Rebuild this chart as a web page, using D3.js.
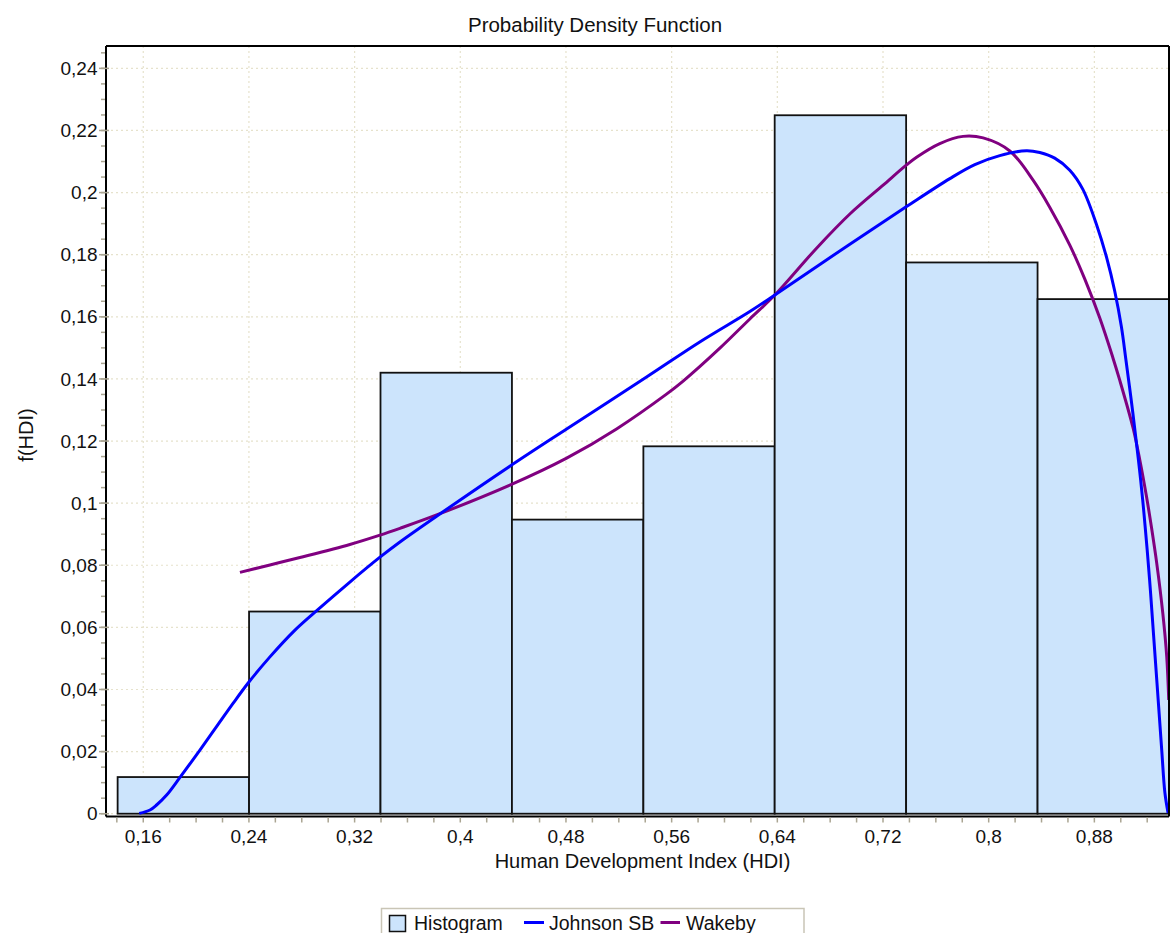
<!DOCTYPE html>
<html>
<head>
<meta charset="utf-8">
<script src="https://cdn.jsdelivr.net/npm/d3@7"></script>
<style>
  html, body { margin: 0; padding: 0; background: #fff; }
  svg { display: block; font-family: "Liberation Sans", Arial, sans-serif; }
</style>
</head>
<body>
<div id="chart"></div>
<script>
// ---- data ----
const binEdges = [0.1406, 0.2401, 0.3396, 0.4391, 0.5386, 0.6380, 0.7375, 0.8370, 0.9365];
const binHeights = [0.0118, 0.0651, 0.1420, 0.0947, 0.1183, 0.2249, 0.1775, 0.1657];

const johnsonX = [0.1570, 0.1651, 0.1701, 0.1777, 0.1878, 0.2029, 0.2156, 0.2281, 0.2400, 0.2559,
  0.2741, 0.2900, 0.3164, 0.3392, 0.3543, 0.3821, 0.4375, 0.4805, 0.5410, 0.5813, 0.6192, 0.6381,
  0.6949, 0.7378, 0.7706, 0.7895, 0.8084, 0.8286, 0.8387, 0.8500, 0.8614, 0.8712, 0.8818, 0.8894,
  0.8954, 0.9005, 0.9039, 0.9079, 0.9116, 0.9142, 0.9166, 0.9182, 0.9200, 0.9224, 0.9247, 0.9274,
  0.9310, 0.9334, 0.9358];
const johnsonY = [0.0001, 0.0012, 0.0028, 0.0060, 0.0117, 0.0205, 0.0281, 0.0356, 0.0424, 0.0505,
  0.0588, 0.0649, 0.0746, 0.0826, 0.0875, 0.0958, 0.1119, 0.1239, 0.1406, 0.1519, 0.1617, 0.1670,
  0.1834, 0.1955, 0.2045, 0.2090, 0.2119, 0.2135, 0.2129, 0.2111, 0.2072, 0.2011, 0.1895, 0.1789,
  0.1683, 0.1567, 0.1461, 0.1332, 0.1203, 0.1107, 0.1010, 0.0936, 0.0849, 0.0720, 0.0582, 0.0421,
  0.0205, 0.0067, 0.0002];

const wakebyX = [0.2332, 0.2559, 0.2786, 0.3164, 0.3392, 0.3543, 0.3821, 0.4375, 0.4805, 0.5183,
  0.5561, 0.5687, 0.5965, 0.6192, 0.6381, 0.6697, 0.6949, 0.7201, 0.7378, 0.7454, 0.7630, 0.7806,
  0.7958, 0.8160, 0.8336, 0.8462, 0.8614, 0.8727, 0.8841, 0.8939, 0.8992, 0.9093, 0.9144, 0.9194,
  0.9232, 0.9272, 0.9318, 0.9348, 0.9363];
const wakebyY = [0.0777, 0.0801, 0.0825, 0.0867, 0.0897, 0.0919, 0.0962, 0.1058, 0.1145, 0.1239,
  0.1351, 0.1393, 0.1499, 0.1593, 0.1670, 0.1821, 0.1931, 0.2024, 0.2089, 0.2114, 0.2158, 0.2181,
  0.2176, 0.2134, 0.2040, 0.1953, 0.1831, 0.1722, 0.1596, 0.1470, 0.1396, 0.1242, 0.1139, 0.1023,
  0.0923, 0.0807, 0.0646, 0.0505, 0.0366];

const xTicks = [0.16, 0.24, 0.32, 0.4, 0.48, 0.56, 0.64, 0.72, 0.8, 0.88];
const yTicks = [0, 0.02, 0.04, 0.06, 0.08, 0.1, 0.12, 0.14, 0.16, 0.18, 0.2, 0.22, 0.24];

const titleText = 'Probability Density Function';
const xLabel = 'Human Development Index (HDI)';
const yLabel = 'f(HDI)';
const legendItems = ['Histogram', 'Johnson SB', 'Wakeby'];

// ---- layout ----
const W = 1170, H = 933;
const plot = { left: 106, right: 1169, top: 46, bottom: 816.5 };

const x = d3.scaleLinear().domain([0.1318, 0.9365]).range([plot.left, plot.right]);
const y = d3.scaleLinear().domain([-0.0009, 0.2472]).range([plot.bottom, plot.top]);

const fmt = d3.formatLocale({ decimal: ',', thousands: '.', grouping: [3], currency: ['', ''] }).format('~g');

const svg = d3.select('#chart').append('svg')
    .attr('width', W)
    .attr('height', H);

svg.append('defs').append('clipPath')
    .attr('id', 'plot-clip')
    .append('rect')
    .attr('x', plot.left).attr('y', plot.top)
    .attr('width', plot.right - plot.left).attr('height', plot.bottom - plot.top);

// Grid (dotted, behind bars)
const grid = svg.append('g').attr('class', 'grid')
    .attr('stroke', '#e6e2cc')
    .attr('stroke-width', 1.2)
    .attr('stroke-dasharray', '2,3');

grid.selectAll('line.gx').data(xTicks).join('line')
    .attr('class', 'gx')
    .attr('x1', d => x(d)).attr('x2', d => x(d))
    .attr('y1', plot.top).attr('y2', plot.bottom);

grid.selectAll('line.gy').data(yTicks).join('line')
    .attr('class', 'gy')
    .attr('x1', plot.left).attr('x2', plot.right)
    .attr('y1', d => y(d)).attr('y2', d => y(d));

// Histogram bars
const bins = binHeights.map((h, i) => ({ x0: binEdges[i], x1: binEdges[i + 1], h }));

svg.append('g').attr('class', 'bars')
    .attr('clip-path', 'url(#plot-clip)')
    .selectAll('rect').data(bins).join('rect')
    .attr('x', d => x(d.x0))
    .attr('y', d => y(d.h))
    .attr('width', d => x(d.x1) - x(d.x0))
    .attr('height', d => y(0) - y(d.h))
    .attr('fill', '#cce4fc')
    .attr('stroke', '#111')
    .attr('stroke-width', 1.8);

// Fitted curves
const line = d3.line()
    .x(d => x(d[0]))
    .y(d => y(d[1]))
    .curve(d3.curveCatmullRom.alpha(0.5));

const curves = svg.append('g').attr('clip-path', 'url(#plot-clip)');

curves.append('path')
    .datum(d3.zip(wakebyX, wakebyY))
    .attr('fill', 'none')
    .attr('stroke', '#800080')
    .attr('stroke-width', 3)
    .attr('d', line);

curves.append('path')
    .datum(d3.zip(johnsonX, johnsonY))
    .attr('fill', 'none')
    .attr('stroke', '#0000ff')
    .attr('stroke-width', 3)
    .attr('d', line);

// Frame
const frame = svg.append('g').attr('stroke', '#000').attr('stroke-width', 2).attr('fill', 'none');
frame.append('line').attr('x1', plot.left).attr('x2', plot.right).attr('y1', plot.top).attr('y2', plot.top);
frame.append('line').attr('x1', plot.left).attr('x2', plot.left).attr('y1', plot.top).attr('y2', plot.bottom);
frame.append('line').attr('x1', plot.left).attr('x2', plot.right).attr('y1', plot.bottom).attr('y2', plot.bottom);
frame.append('line').attr('x1', plot.right).attr('x2', plot.right).attr('y1', plot.top).attr('y2', plot.bottom);

// Ticks
const tickColor = '#aaa592';
const xMinor = d3.range(7, 47).map(i => i / 50);     // 0.14 .. 0.92 every 0.02
const yMinor = d3.range(0, 50).map(i => i / 200);    // 0 .. 0.245 every 0.005

const ticks = svg.append('g').attr('stroke', tickColor).attr('stroke-width', 1.5);

ticks.selectAll('line.xt').data(xMinor).join('line')
    .attr('class', 'xt')
    .attr('x1', d => x(d)).attr('x2', d => x(d))
    .attr('y1', plot.bottom + 1).attr('y2', plot.bottom + 6);

ticks.selectAll('line.yt').data(yMinor).join('line')
    .attr('class', 'yt')
    .attr('x1', plot.left - 5).attr('x2', plot.left - 1)
    .attr('y1', d => y(d)).attr('y2', d => y(d));

ticks.selectAll('line.ytm').data(yTicks).join('line')
    .attr('class', 'ytm')
    .attr('x1', plot.left - 7).attr('x2', plot.left + 3)
    .attr('y1', d => y(d)).attr('y2', d => y(d));

// Tick labels
svg.append('g').selectAll('text').data(xTicks).join('text')
    .attr('x', d => x(d))
    .attr('y', 842.5)
    .attr('text-anchor', 'middle')
    .attr('font-size', 19)
    .attr('fill', '#111')
    .text(d => fmt(d));

svg.append('g').selectAll('text').data(yTicks).join('text')
    .attr('x', 97.5)
    .attr('y', d => y(d))
    .attr('dy', '0.35em')
    .attr('text-anchor', 'end')
    .attr('font-size', 19)
    .attr('fill', '#111')
    .text(d => fmt(d));

// Titles
svg.append('text')
    .attr('x', 595).attr('y', 32)
    .attr('text-anchor', 'middle')
    .attr('font-size', 20.5)
    .attr('fill', '#111')
    .text(titleText);

svg.append('text')
    .attr('x', 642.5).attr('y', 867.5)
    .attr('text-anchor', 'middle')
    .attr('font-size', 20)
    .attr('fill', '#111')
    .text(xLabel);

svg.append('text')
    .attr('transform', 'translate(33,435) rotate(-90)')
    .attr('text-anchor', 'middle')
    .attr('font-size', 20)
    .attr('fill', '#111')
    .text(yLabel);

// Legend
const legend = svg.append('g');
legend.append('rect')
    .attr('x', 381.5).attr('y', 908.5)
    .attr('width', 422.5).attr('height', 40)
    .attr('fill', '#fff')
    .attr('stroke', '#c9c5b6')
    .attr('stroke-width', 1.5);

legend.append('rect')
    .attr('x', 389.5).attr('y', 915.5)
    .attr('width', 16).attr('height', 16)
    .attr('fill', '#cce4fc')
    .attr('stroke', '#111')
    .attr('stroke-width', 1.5);

legend.append('line')
    .attr('x1', 524).attr('x2', 544).attr('y1', 922.5).attr('y2', 922.5)
    .attr('stroke', '#0000ff').attr('stroke-width', 3);

legend.append('line')
    .attr('x1', 660.5).attr('x2', 680).attr('y1', 922.5).attr('y2', 922.5)
    .attr('stroke', '#800080').attr('stroke-width', 3);

const legendX = [414, 549, 686];
legend.selectAll('text').data(legendItems).join('text')
    .attr('x', (d, i) => legendX[i])
    .attr('y', 929.5)
    .attr('font-size', 19.5)
    .attr('fill', '#111')
    .text(d => d);
</script>
</body>
</html>
